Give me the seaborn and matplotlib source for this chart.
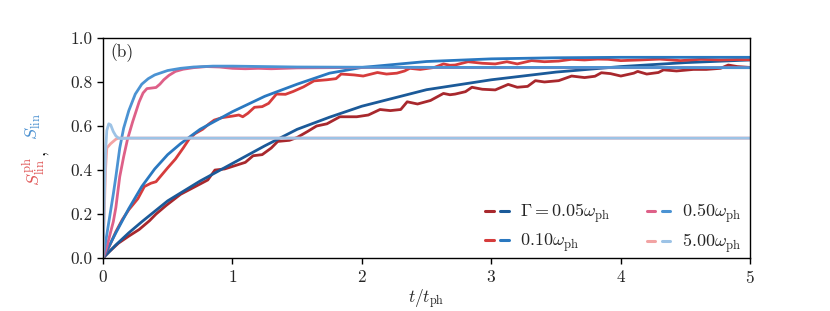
import matplotlib
matplotlib.use('Agg')
import matplotlib.pyplot as plt
import seaborn as sns
from matplotlib.lines import Line2D
from matplotlib.legend_handler import HandlerTuple

# Curves: S_lin^ph (red) and S_lin (blue) for each Gamma
t_b005 = [0, 0.1, 0.2, 0.3, 0.5, 0.75, 1, 1.25, 1.5, 1.75, 2, 2.5, 3, 3.5, 4, 4.5, 5]
s_b005 = [0, 0.06, 0.115, 0.165, 0.26, 0.35, 0.43, 0.51, 0.585, 0.64, 0.69, 0.765, 0.81, 0.845, 0.87, 0.888, 0.9]

t_b010 = [0, 0.1, 0.2, 0.3, 0.4, 0.5, 0.6, 0.75, 1, 1.25, 1.5, 1.75, 2, 2.5, 3, 3.5, 4, 4.5, 5]
s_b010 = [0, 0.115, 0.225, 0.325, 0.405, 0.47, 0.52, 0.585, 0.665, 0.735, 0.79, 0.84, 0.866, 0.893, 0.905, 0.91, 0.912, 0.912, 0.912]

t_b050 = [0, 0.02, 0.05, 0.08, 0.1, 0.13, 0.16, 0.2, 0.25, 0.3, 0.35, 0.4, 0.5, 0.6, 0.7, 0.85, 1, 1.25, 1.5, 2, 3, 4, 5]
s_b050 = [0, 0.07, 0.18, 0.29, 0.37, 0.5, 0.59, 0.67, 0.745, 0.79, 0.815, 0.832, 0.852, 0.862, 0.868, 0.872, 0.872,
          0.87, 0.868, 0.867, 0.866, 0.866, 0.865]

t_b500 = [0, 0.01, 0.02, 0.03, 0.045, 0.06, 0.08, 0.1, 0.12, 0.15, 0.2, 5]
s_b500 = [0, 0.25, 0.48, 0.58, 0.61, 0.605, 0.575, 0.555, 0.545, 0.543, 0.545, 0.545]

t_r005 = [0, 0.05, 0.12, 0.2, 0.28, 0.36, 0.41, 0.49, 0.556, 0.6, 0.71, 0.81, 0.865, 0.94, 1.02, 1.1, 1.16, 1.23,
          1.3, 1.35, 1.44, 1.5, 1.58, 1.65, 1.73, 1.83, 1.96, 2.05, 2.14, 2.22, 2.3, 2.35, 2.43, 2.53, 2.63, 2.68,
          2.72, 2.8, 2.85, 2.93, 3.03, 3.13, 3.2, 3.28, 3.34, 3.41, 3.52, 3.62, 3.72, 3.8, 3.85, 3.92, 4.0, 4.1,
          4.13, 4.2, 4.29, 4.33, 4.43, 4.56, 4.66, 4.77, 4.83, 4.9, 5.0]
s_r005 = [0, 0.03, 0.068, 0.10, 0.13, 0.17, 0.20, 0.24, 0.27, 0.29, 0.324, 0.355, 0.40, 0.405, 0.42, 0.435, 0.465,
          0.47, 0.50, 0.53, 0.535, 0.548, 0.575, 0.60, 0.61, 0.642, 0.642, 0.65, 0.675, 0.67, 0.675, 0.71, 0.70,
          0.716, 0.748, 0.742, 0.745, 0.756, 0.776, 0.767, 0.764, 0.789, 0.776, 0.78, 0.806, 0.80, 0.806, 0.827,
          0.82, 0.826, 0.842, 0.838, 0.827, 0.84, 0.848, 0.836, 0.843, 0.855, 0.85, 0.857, 0.857, 0.862, 0.877,
          0.87, 0.866]

t_r010 = [0, 0.05, 0.1, 0.15, 0.2, 0.27, 0.32, 0.37, 0.41, 0.45, 0.5, 0.56, 0.62, 0.665, 0.71, 0.77, 0.82, 0.86,
          0.92, 1.0, 1.05, 1.08, 1.12, 1.17, 1.23, 1.28, 1.34, 1.41, 1.47, 1.55, 1.63, 1.73, 1.8, 1.84, 1.94, 2.01,
          2.12, 2.19, 2.27, 2.33, 2.37, 2.45, 2.56, 2.63, 2.68, 2.72, 2.82, 2.93, 3.03, 3.12, 3.2, 3.31, 3.41, 3.52,
          3.62, 3.72, 3.82, 3.9, 4.0, 4.15, 4.3, 4.46, 4.62, 4.77, 4.9, 5.0]
s_r010 = [0, 0.055, 0.12, 0.175, 0.22, 0.27, 0.325, 0.34, 0.347, 0.375, 0.41, 0.45, 0.50, 0.54, 0.565, 0.585, 0.61,
          0.627, 0.638, 0.645, 0.65, 0.642, 0.658, 0.685, 0.688, 0.703, 0.745, 0.744, 0.757, 0.778, 0.805, 0.81,
          0.815, 0.836, 0.832, 0.827, 0.843, 0.836, 0.84, 0.85, 0.862, 0.857, 0.866, 0.882, 0.876, 0.877, 0.892,
          0.885, 0.882, 0.892, 0.882, 0.897, 0.892, 0.895, 0.903, 0.9, 0.904, 0.903, 0.897, 0.9, 0.904, 0.897,
          0.903, 0.9, 0.902, 0.901]

t_r050 = [0, 0.03, 0.06, 0.08, 0.1, 0.13, 0.16, 0.19, 0.23, 0.28, 0.31, 0.34, 0.37, 0.41, 0.44, 0.47, 0.51, 0.56,
          0.62, 0.7, 0.8, 0.9, 1.0, 1.1, 1.2, 1.3, 1.5, 2, 3, 4, 5]
s_r050 = [0, 0.05, 0.12, 0.165, 0.23, 0.37, 0.46, 0.54, 0.62, 0.71, 0.75, 0.77, 0.772, 0.775, 0.79, 0.81, 0.83,
          0.848, 0.858, 0.865, 0.87, 0.868, 0.862, 0.86, 0.862, 0.86, 0.864, 0.866, 0.865, 0.865, 0.865]

t_r500 = [0, 0.01, 0.02, 0.03, 0.045, 0.06, 0.08, 0.1, 0.12, 0.2, 5]
s_r500 = [0, 0.2, 0.4, 0.5, 0.51, 0.52, 0.53, 0.54, 0.545, 0.545, 0.545]

gammas = [r'$\Gamma=0.05\omega_{\rm ph}$', r'$0.10\omega_{\rm ph}$',
          r'$0.50\omega_{\rm ph}$', r'$5.00\omega_{\rm ph}$']
reds = ['#a8282d', '#d63c3c', '#de6088', '#f2a3a3']
blues = ['#1b5a99', '#2a78c0', '#4b93d3', '#9dc3e6']

curves = [((t_r005, s_r005), (t_b005, s_b005)),
          ((t_r010, s_r010), (t_b010, s_b010)),
          ((t_r050, s_r050), (t_b050, s_b050)),
          ((t_r500, s_r500), (t_b500, s_b500))]

sns.set_style('ticks')
plt.rcParams['font.family'] = 'serif'
plt.rcParams['font.serif'] = ['cmr10']
plt.rcParams['mathtext.fontset'] = 'cm'
plt.rcParams['axes.formatter.use_mathtext'] = True
plt.rcParams['axes.unicode_minus'] = False

fig = plt.figure(figsize=(8.3, 3.11), dpi=100)
ax = fig.add_axes([0.124, 0.170, 0.780, 0.708])

handles = []
for i, ((tr, sr), (tb, sb)) in enumerate(curves):
    sns.lineplot(x=tr, y=sr, ax=ax, color=reds[i], lw=2.0)
    sns.lineplot(x=tb, y=sb, ax=ax, color=blues[i], lw=2.0)
    handles.append((Line2D([], [], color=reds[i], lw=2.2), Line2D([], [], color=blues[i], lw=2.2)))

ax.set_xlim(0, 5)
ax.set_ylim(0, 1)
ax.set_xticks([0, 1, 2, 3, 4, 5])
ax.set_yticks([0, 0.2, 0.4, 0.6, 0.8, 1.0])
ax.set_yticklabels(['0.0', '0.2', '0.4', '0.6', '0.8', '1.0'])
ax.tick_params(labelsize=12.5, length=4, width=1, color='black')
for sp in ax.spines.values():
    sp.set_color('black')
    sp.set_linewidth(1.0)
ax.set_xlabel(r'$t/t_{\rm ph}$', fontsize=12.5, labelpad=1)
ax.set_ylabel('')

ax.text(0.012, 0.975, '(b)', transform=ax.transAxes, ha='left', va='top', fontsize=12.5)

# two-coloured y label
fig.text(0.040, 0.447, r'$S^{\rm ph}_{\rm lin}$', color='#e05555', rotation=90,
         ha='center', va='center', fontsize=13)
fig.text(0.049, 0.511, ',', color='black', rotation=90, ha='center', va='center', fontsize=13)
fig.text(0.040, 0.592, r'$S_{\rm lin}$', color='#4a90d0', rotation=90,
         ha='center', va='center', fontsize=13)

ax.legend(handles, gammas, handler_map={tuple: HandlerTuple(ndivide=None, pad=0.35)},
          ncol=2, loc='lower right', bbox_to_anchor=(0.985, 0.012), frameon=False,
          fontsize=13, handlelength=1.3, handletextpad=0.62, columnspacing=2.0,
          labelspacing=0.35, borderpad=0, borderaxespad=0)

fig.savefig('out.png', dpi=100)
